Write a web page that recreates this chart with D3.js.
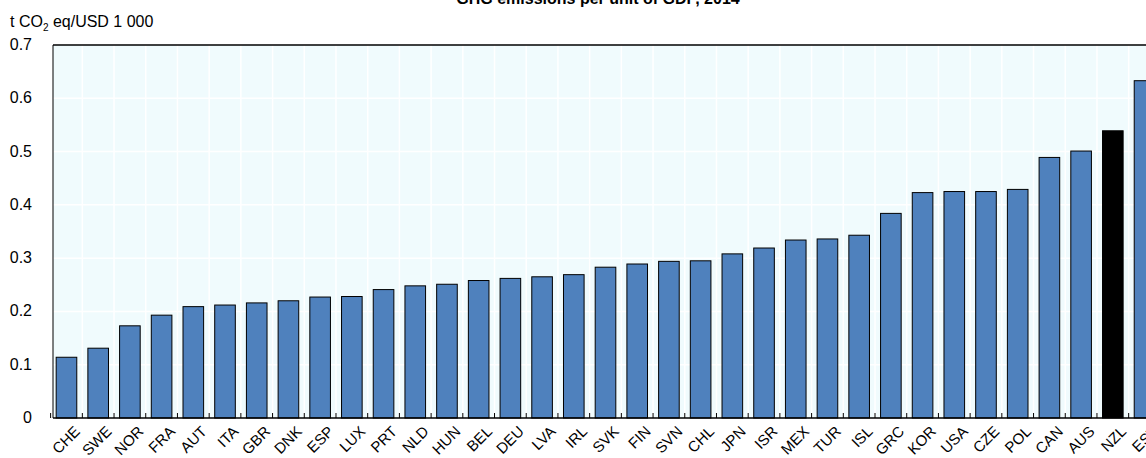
<!DOCTYPE html>
<html><head><meta charset="utf-8">
<script src="https://cdn.jsdelivr.net/npm/d3@7"></script>
<style>body{margin:0;overflow:hidden;background:#fff}text{font-family:"Liberation Sans Narrow","Arial Narrow","Liberation Sans",Arial,sans-serif}</style>
</head><body>
<svg width="1146" height="458"></svg>
<script>
// data
var countries = ["CHE","SWE","NOR","FRA","AUT","ITA","GBR","DNK","ESP","LUX","PRT","NLD","HUN","BEL","DEU","LVA","IRL","SVK","FIN","SVN","CHL","JPN","ISR","MEX","TUR","ISL","GRC","KOR","USA","CZE","POL","CAN","AUS","NZL","EST"];
var values = [0.114,0.131,0.173,0.193,0.209,0.212,0.216,0.220,0.227,0.228,0.241,0.248,0.251,0.258,0.262,0.265,0.269,0.283,0.289,0.294,0.295,0.308,0.319,0.334,0.336,0.343,0.384,0.423,0.425,0.425,0.429,0.489,0.501,0.539,0.633];
var yTicks = [0,0.1,0.2,0.3,0.4,0.5,0.6,0.7];
var highlight = "NZL";

var svg = d3.select("svg"),
    margin = {top: 45, left: 53},
    width = 1105, height = 373;

var data = countries.map(function (c, i) { return {country: c, value: values[i]}; });

var x = d3.scaleBand().domain(countries).range([0, width]).paddingInner(0.35).paddingOuter(0.1),
    y = d3.scaleLinear().domain([0, 0.7]).range([height, 0]);

var g = svg.append("g").attr("transform", "translate(" + margin.left + "," + margin.top + ")");
var step = x.step();
function edge(d) { return x(d) - step * 0.175; }

// plot background and white grid
g.append("rect").attr("width", width).attr("height", height).attr("fill", "#F0FBFD");
g.selectAll(".hgrid").data(yTicks.slice(1, -1)).enter().append("line")
    .attr("x1", 0).attr("x2", width)
    .attr("y1", function (d) { return y(d); }).attr("y2", function (d) { return y(d); })
    .attr("stroke", "#fff").attr("stroke-width", 1.5);
g.selectAll(".vgrid").data(countries.slice(1)).enter().append("line")
    .attr("x1", edge).attr("x2", edge)
    .attr("y1", 0).attr("y2", height)
    .attr("stroke", "#fff").attr("stroke-width", 1.5);

// bars
g.selectAll(".bar").data(data).enter().append("rect")
    .attr("x", function (d) { return x(d.country); })
    .attr("y", function (d) { return y(d.value); })
    .attr("width", x.bandwidth())
    .attr("height", function (d) { return height - y(d.value); })
    .attr("fill", function (d) { return d.country === highlight ? "#000" : "#4F81BD"; })
    .attr("stroke", "#000").attr("stroke-width", 1);

// frame lines
g.append("line").attr("x1", 0).attr("x2", width).attr("y1", 0).attr("y2", 0).attr("stroke", "#000").attr("stroke-width", 1.5);
g.append("line").attr("x1", 0).attr("x2", width).attr("y1", height).attr("y2", height).attr("stroke", "#000").attr("stroke-width", 1.5);
g.append("line").attr("x1", 0).attr("x2", 0).attr("y1", 0).attr("y2", height).attr("stroke", "#000").attr("stroke-width", 1);

// small ticks between bars
g.selectAll(".xtick").data(countries).enter().append("line")
    .attr("x1", edge).attr("x2", edge)
    .attr("y1", height).attr("y2", height - 5)
    .attr("stroke", "#000");

// y labels
g.selectAll(".ylab").data(yTicks).enter().append("text")
    .attr("x", -21).attr("y", function (d) { return y(d) + 5; })
    .attr("text-anchor", "end").attr("font-size", 16).attr("fill", "#000")
    .text(function (d) { return d === 0 ? "0" : d3.format(".1f")(d); });

// x labels rotated
g.selectAll(".xlab").data(countries).enter().append("text")
    .attr("transform", function (d) {
        return "translate(" + (x(d) + x.bandwidth() / 2 + 7) + "," + (height + 7) + ") rotate(-45)";
    })
    .attr("text-anchor", "end").attr("dy", "0.7em").attr("font-size", 15).attr("fill", "#000")
    .text(function (d) { return d; });

// unit label and title
var unit = svg.append("text").attr("x", 10).attr("y", 27).attr("font-size", 16).attr("fill", "#000");
unit.append("tspan").text("t CO");
unit.append("tspan").attr("font-size", 10).attr("dy", 4).text("2");
unit.append("tspan").attr("dy", -4).text(" eq/USD 1 000");

svg.append("text").attr("x", 598).attr("y", 4).attr("text-anchor", "middle")
    .attr("font-size", 16).attr("font-weight", "bold").attr("fill", "#000")
    .text("GHG emissions per unit of GDP, 2014");
</script>
</body></html>
